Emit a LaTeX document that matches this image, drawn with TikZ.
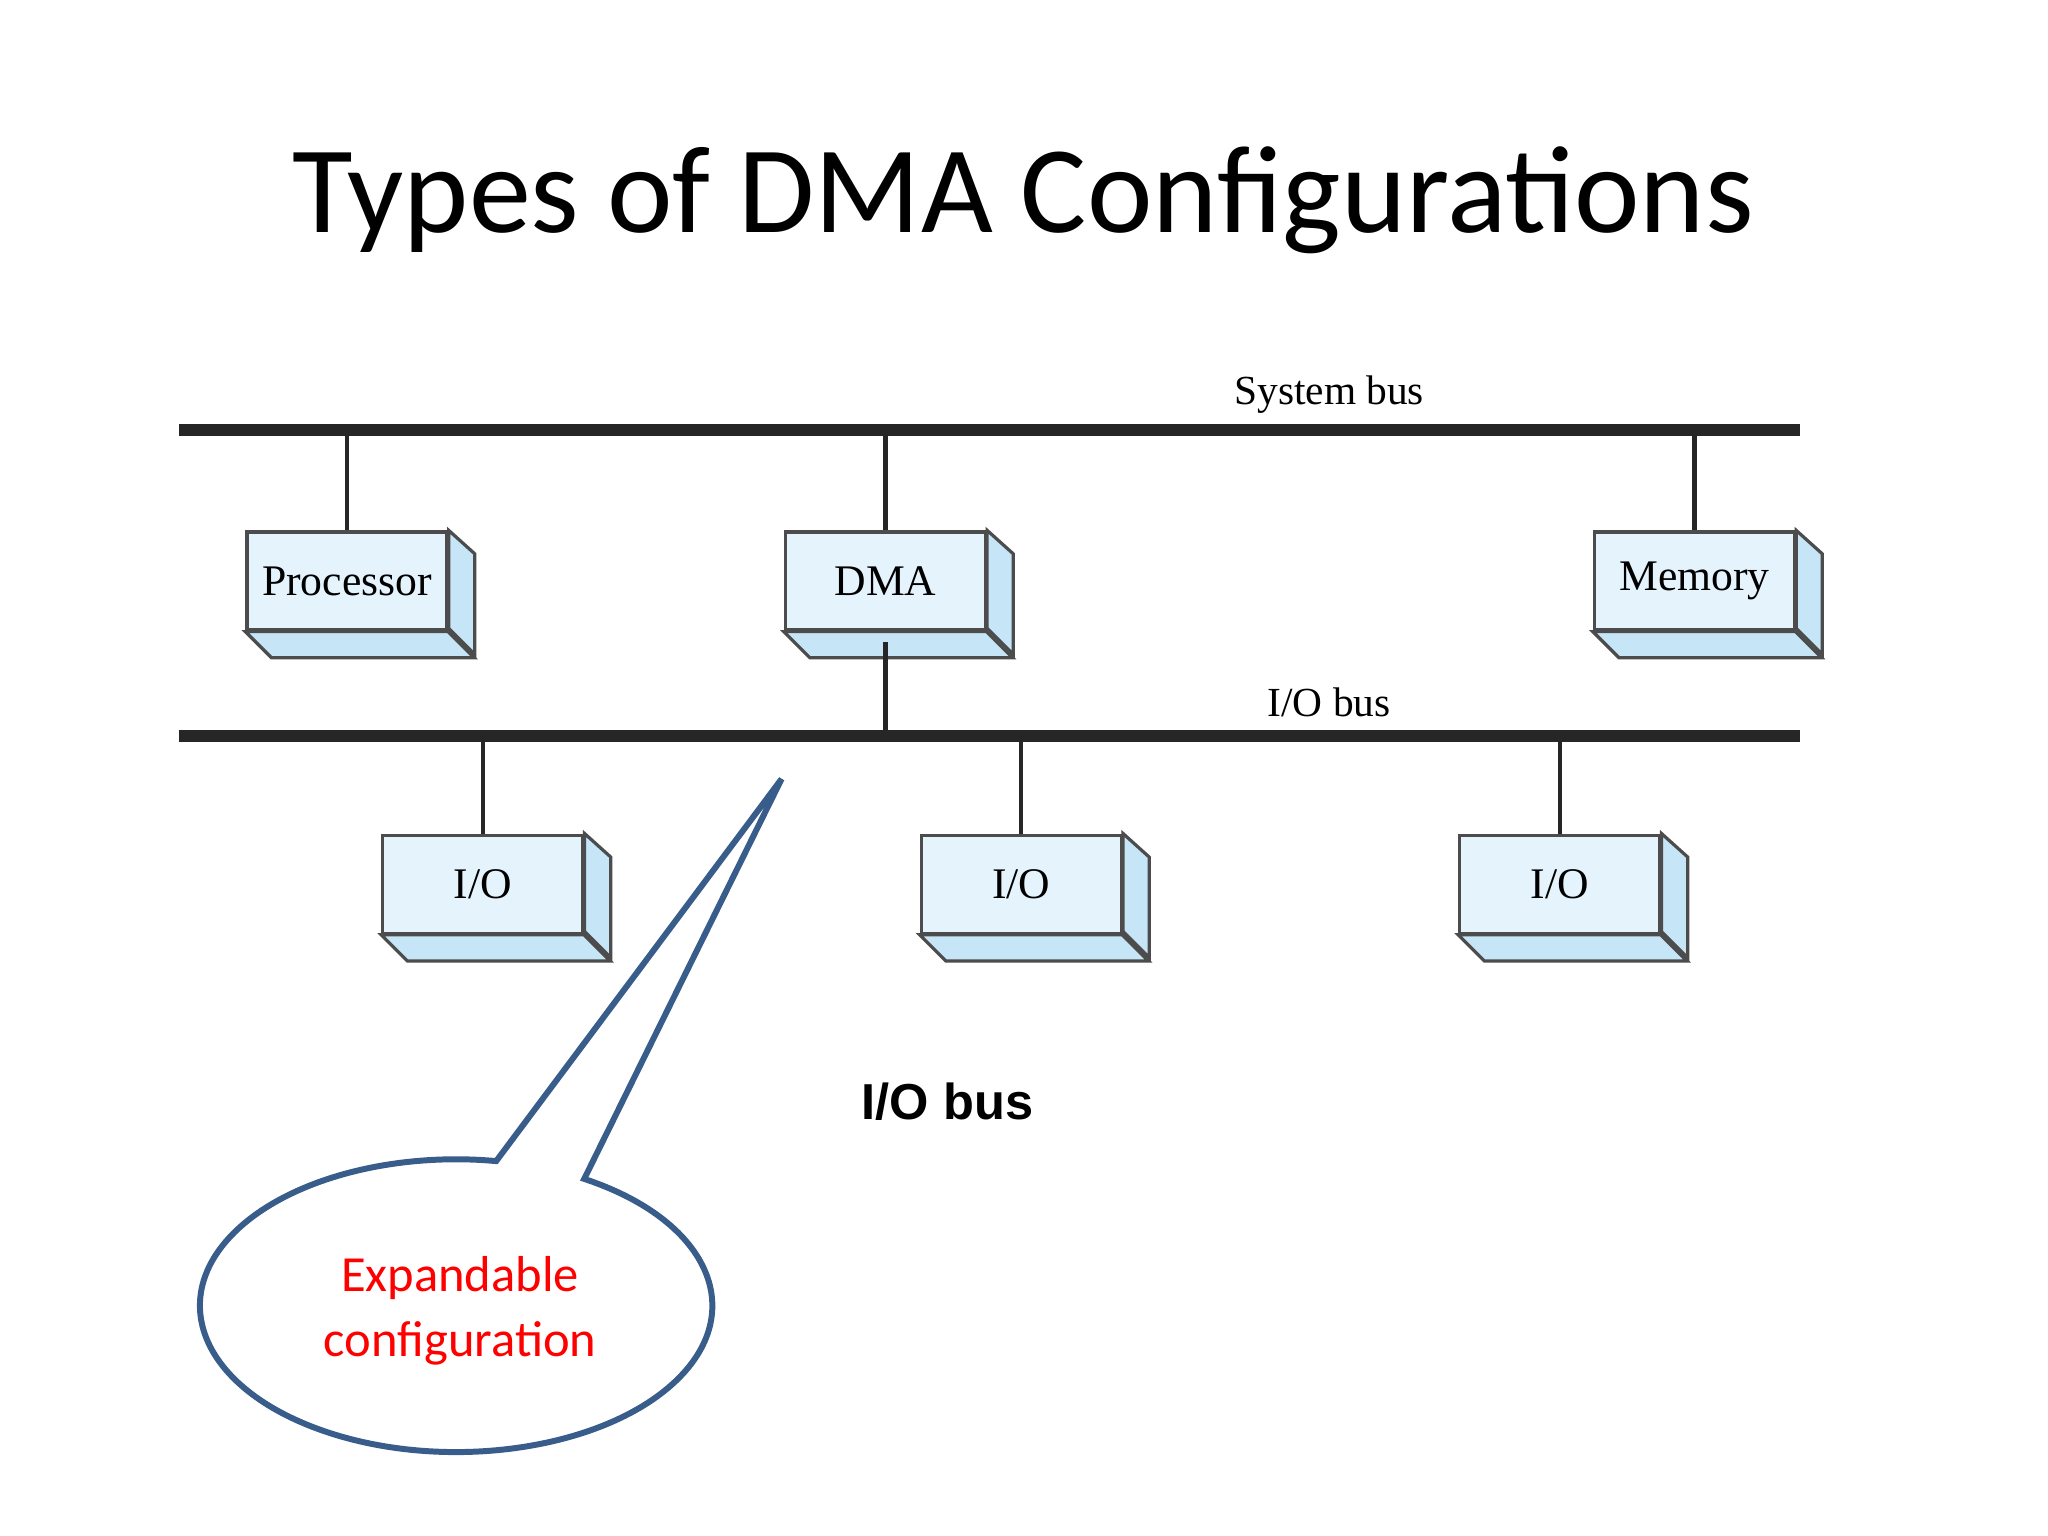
\documentclass[tikz,border=0pt]{standalone}
\usepackage{fontspec}
\setmainfont{Liberation Serif}
\newfontfamily\titlefont{Carlito}
\newfontfamily\labelfont{Liberation Sans}
\usetikzlibrary{positioning}
\definecolor{boxfront}{HTML}{E4F3FC}
\definecolor{boxside}{HTML}{C6E6F8}
\definecolor{calloutline}{HTML}{385D8A}
\newcommand{\unitbox}[3]{% name, position, text
\node [block] (#1) at (#2) {#3};
\fill[boxside,draw=black!70,line width=0.7pt] (#1.north east) -- ++(20,18) -- ++(0,77) -- ++(-20,-20) -- cycle;
\fill[boxside,draw=black!70,line width=0.7pt] (#1.south west) -- ++(20,20) -- ++(155,0) -- ++(-20,-20) -- cycle;
}
\begin{document}
\begin{tikzpicture}[x=0.01cm,y=-0.01cm]
\tikzstyle{block} = [rectangle, draw=black!70, line width=0.7pt, fill=boxfront,
minimum width=1.53cm, minimum height=0.75cm, font=\fontsize{9.5}{11}\selectfont, inner sep=0pt]
\tikzstyle{bus} = [line width=2.6pt, draw=black!85]
\tikzstyle{tap} = [line width=0.9pt, draw=black!85]
\useasboundingbox (0,0) rectangle (1567,1175);
% title
\node (title) at (783,153) {\titlefont\fontsize{27}{32}\selectfont Types of DMA Configurations};
% buses
\coordinate (sysl) at (137,329); \coordinate (sysr) at (1377,329);
\coordinate (iol) at (137,563); \coordinate (ior) at (1377,563);
\draw[bus] (sysl) -- (sysr);
\draw[bus] (iol) -- (ior);
\node (syslabel) at (1017,302) {\fontsize{9}{11}\selectfont System bus};
\node (iolabel) at (1017,537) {\fontsize{9}{11}\selectfont I/O bus};
% modules
\unitbox{proc}{265.5,444.5}{Processor}
\unitbox{dma}{677.5,444.5}{DMA}
\unitbox{mem}{1296.5,444.5}{Memory}
\unitbox{ioa}{369.5,676.5}{I/O}
\unitbox{iob}{781.5,676.5}{I/O}
\unitbox{ioc}{1193.5,676.5}{I/O}
\foreach \n in {proc,dma,mem} \draw[tap] (\n.north) -- (\n.north |- sysl);
\foreach \n in {ioa,iob,ioc} \draw[tap] (\n.north) -- (\n.north |- iol);
\draw[tap] (dma.south) ++(0,8) -- (dma.south |- iol);
\node (busnote) at (725,843) {\labelfont\bfseries\fontsize{11}{13}\selectfont I/O bus};
% callout
\coordinate (tip) at (598,596);
\draw[calloutline, line width=1.3pt, fill=white] (447,902) arc[start angle=-60, end angle=279, x radius=196, y radius=112] -- (tip) -- cycle;
\node[text=red, align=center, font=\titlefont\fontsize{11}{14}\selectfont] (expand) at (352,1003) {Expandable\\configuration};
\end{tikzpicture}
\end{document}
